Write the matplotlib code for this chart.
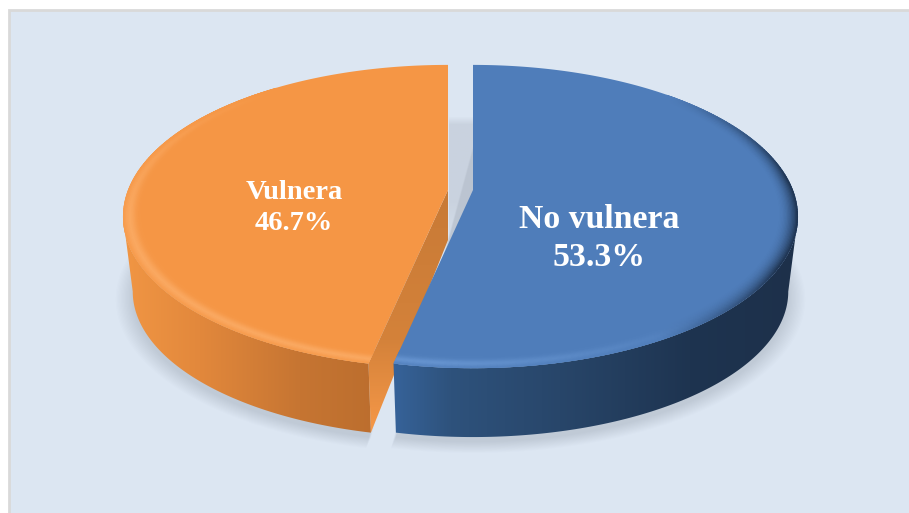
import numpy as np
import matplotlib
matplotlib.use('Agg')
import matplotlib.pyplot as plt
from matplotlib.collections import LineCollection
from matplotlib.patches import Polygon, Rectangle
from matplotlib.colors import to_rgb

# data
labels = ['No vulnera', 'Vulnera']
shares = [53.3, 46.7]

BG = '#DCE6F2'
TOP_COLORS = ['#4F7DBA', '#F59645']

# pie geometry in pixels, perspective squashes the back of the disc
TIP_X = [473, 448]
TIP_Y = 190
RX = 320
RY = 147
PERSP = 0.175
WALL = 76
BOTTOM_SCALE_X = 0.97
BOTTOM_SCALE_Y = 0.96


def project(tip_x, theta, r=1.0, bottom=False):
    # theta is clockwise from 12 o'clock, in degrees
    t = np.radians(theta)
    u = r * np.sin(t)
    v = r * np.cos(t)
    d = 1 + PERSP * v
    if bottom:
        return (tip_x + BOTTOM_SCALE_X * RX * u / d,
                TIP_Y + WALL - BOTTOM_SCALE_Y * RY * v / d)
    return tip_x + RX * u / d, TIP_Y - RY * v / d


def lerp(a, b, f):
    return tuple(np.array(a) + (np.array(b) - np.array(a)) * f)


def grad_image(ax, clip, extent, stops, vertical=False, zorder=2):
    # gradient fill clipped on a polygon
    pos = np.array([s[0] for s in stops], dtype=float)
    cols = np.array([s[1] for s in stops], dtype=float) / 255
    n = 300
    coord = np.linspace(extent[2], extent[3], n) if vertical else np.linspace(extent[0], extent[1], n)
    row = np.stack([np.interp(coord, pos, cols[:, i]) for i in range(3)], axis=-1)
    img = row[:, None, :] if vertical else row[None, :, :]
    im = ax.imshow(img, extent=(extent[0], extent[1], extent[3], extent[2]), origin='upper',
                   aspect='auto', zorder=zorder, interpolation='bilinear')
    patch = Polygon(clip, closed=True, transform=ax.transData, fc='none', ec='none')
    ax.add_patch(patch)
    im.set_clip_path(patch)
    return im


fig = plt.figure(figsize=(9.09, 5.13), dpi=100)
ax = fig.add_axes([0, 0, 1, 1])
ax.set_xlim(0, 909)
ax.set_ylim(513, 0)
ax.axis('off')

# panel
ax.add_patch(Rectangle((9, 10), 910, 520, fc=BG, ec='#D9D9D9', lw=2, zorder=0))

angles = np.cumsum([0] + shares) / sum(shares) * 360
start_blue, cut, end = angles
# widest point of the disc on screen, the wall silhouette starts there
side = np.degrees(np.arccos(-PERSP))
blue_th = np.linspace(start_blue, cut, 200)
orange_th = np.linspace(cut, end, 200)

# soft shadow on the ground
for i in range(14):
    grow = 1 + 0.004 * i
    for tip, th in ((TIP_X[0], blue_th), (TIP_X[1], orange_th)):
        px, py = project(tip, th, grow, bottom=True)
        ax.add_patch(Polygon(np.c_[px, py + 5], closed=True, fc='#5A6478', ec='none', alpha=0.012, zorder=1))

# shadow showing through the gap between slices
gap_y = np.linspace(116, 250, 120)
gap_alpha = np.clip((gap_y - 116) / 8, 0, 1) * np.clip((262 - gap_y) / 60, 0.3, 1) * 0.5
gap_img = np.ones((120, 1, 4))
gap_img[..., :3] = np.array([0.72, 0.75, 0.80])
gap_img[:, 0, 3] = gap_alpha
ax.imshow(gap_img, extent=(449, 474, 250, 116), aspect='auto', zorder=1.5, interpolation='bilinear')

# orange wall
o_wall_th = np.linspace(cut, 360 - side, 120)
ox_top, oy_top = project(TIP_X[1], o_wall_th)
ox_bot, oy_bot = project(TIP_X[1], o_wall_th, bottom=True)
wall_o = np.r_[np.c_[ox_top, oy_top], np.c_[ox_bot, oy_bot][::-1]]
grad_image(ax, wall_o, (115, 375, 210, 440),
           [(122, (241, 150, 68)), (200, (226, 136, 60)), (300, (198, 117, 50)), (375, (188, 110, 46))], zorder=2)

# orange cut face
cx0, cy0 = project(TIP_X[1], cut)
cx1, cy1 = project(TIP_X[1], cut, bottom=True)
face = [(TIP_X[1], TIP_Y), (cx0, cy0), (cx1, cy1), (TIP_X[1], TIP_Y + 50)]
grad_image(ax, face, (360, 452, 190, 432),
           [(190, (200, 122, 54)), (340, (212, 130, 58)), (432, (246, 152, 72))], vertical=True, zorder=2.2)

# orange top
ox, oy = project(TIP_X[1], orange_th)
orange_top = Polygon(np.r_[[(TIP_X[1], TIP_Y)], np.c_[ox, oy]], closed=True, fc=TOP_COLORS[1], ec='none', zorder=3)
ax.add_patch(orange_top)

# blue wall
b_wall_th = np.linspace(side, cut, 120)
bx_top, by_top = project(TIP_X[0], b_wall_th)
bx_bot, by_bot = project(TIP_X[0], b_wall_th, bottom=True)
wall_b = np.r_[np.c_[bx_top, by_top], np.c_[bx_bot, by_bot][::-1]]
grad_image(ax, wall_b, (390, 805, 200, 445),
           [(396, (54, 98, 152)), (450, (46, 82, 124)), (560, (40, 70, 106)), (690, (30, 52, 80)), (800, (29, 48, 74))], zorder=4)

# blue top
bx, by = project(TIP_X[0], blue_th)
blue_top = Polygon(np.r_[[(TIP_X[0], TIP_Y)], np.c_[bx, by]], closed=True, fc=TOP_COLORS[0], ec='none', zorder=5)
ax.add_patch(blue_top)


def bevel(tip, th, rim_color, top_patch, zorder):
    # rim shading, drawn as rings of small segments and kept inside the top face
    rings = np.linspace(0.94, 0.999, 16)
    for r in rings:
        f = (r - rings[0]) / (rings[-1] - rings[0])
        x, y = project(tip, th, r)
        pts = np.c_[x, y]
        segs = np.stack([pts[:-1], pts[1:]], axis=1)
        cols = [rim_color(f, a) for a in (th[:-1] + th[1:]) / 2]
        lc = LineCollection(segs, colors=cols, linewidths=1.6, zorder=zorder, capstyle='round')
        ax.add_collection(lc)
        lc.set_clip_path(top_patch)


def orange_rim(f, a):
    base = np.array(to_rgb(TOP_COLORS[1]))
    light = np.array((250, 168, 96)) / 255
    strength = np.clip((320 - a) / 60, 0, 1)
    ridge = np.exp(-((f - 0.7) / 0.3) ** 2) * strength
    return tuple(np.r_[lerp(base, light, ridge), 1.0])


def blue_rim(f, a):
    base = np.array(to_rgb(TOP_COLORS[0]))
    light = np.array((100, 146, 206)) / 255
    dark = np.array((32, 54, 84)) / 255
    k_light = np.clip((a - 140) / 45, 0, 1) * np.exp(-((f - 0.7) / 0.3) ** 2)
    k_dark = np.clip((a - 45) / 40, 0, 1) * np.clip((150 - a) / 30, 0, 1) * f ** 2
    c = lerp(base, light, k_light)
    c = lerp(c, dark, k_dark)
    return tuple(np.r_[c, 1.0])


bevel(TIP_X[1], orange_th[orange_th <= 322], orange_rim, orange_top, 3.5)
bevel(TIP_X[0], blue_th[blue_th >= 43], blue_rim, blue_top, 5.5)

# labels
ax.text(599, 238.5, f'{labels[0]}\n{shares[0]:.1f}%', color='white', ha='center', va='center',
        family='Liberation Serif', weight='bold', fontsize=24.3, linespacing=1.25, zorder=8)
ax.text(294, 208, f'{labels[1]}\n{shares[1]:.1f}%', color='white', ha='center', va='center',
        family='Liberation Serif', weight='bold', fontsize=20.5, linespacing=1.27, zorder=8)

ax.set_xlim(0, 909)
ax.set_ylim(513, 0)
fig.savefig('out.png', dpi=100)
